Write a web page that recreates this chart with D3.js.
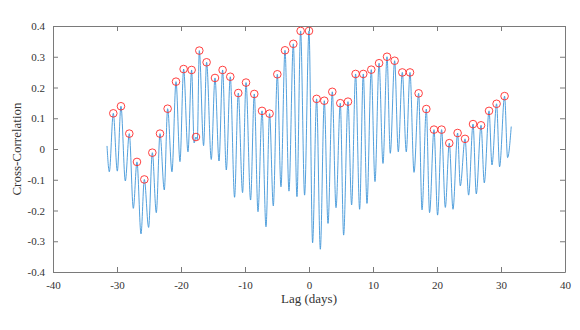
<!DOCTYPE html>
<html>
<head>
<meta charset="utf-8">
<script src="https://cdn.jsdelivr.net/npm/d3@7"></script>
<style>
  html, body { margin: 0; padding: 0; background: #fff; }
  svg { display: block; }
</style>
</head>
<body>
<svg id="chart" width="580" height="330"></svg>
<script>
// ---- data ----
const xTicks = [-40, -30, -20, -10, 0, 10, 20, 30, 40];
const xTickLabels = ["-40", "-30", "-20", "-10", "0", "10", "20", "30", "40"];
const yTicks = [-0.4, -0.3, -0.2, -0.1, 0, 0.1, 0.2, 0.3, 0.4];
const yTickLabels = ["-0.4", "-0.3", "-0.2", "-0.1", "0", "0.1", "0.2", "0.3", "0.4"];

// detected peaks (red circles)
const peakLags = [-30.58, -29.38, -28.08, -26.88, -25.73, -24.48, -23.28, -22.09, -20.78, -19.59,
  -18.34, -17.66, -17.14, -16.00, -14.69, -13.50, -12.30, -11.05, -9.84, -8.55,
  -7.34, -6.16, -4.95, -3.75, -2.45, -1.31, 0.00, 1.19, 2.39, 3.64,
  4.89, 6.09, 7.28, 8.48, 9.73, 10.95, 12.19, 13.38, 14.58, 15.78,
  17.13, 18.33, 19.53, 20.72, 21.92, 23.22, 24.38, 25.63, 26.88, 28.13,
  29.31, 30.56];
const peakValues = [0.116, 0.139, 0.050, -0.042, -0.099, -0.012, 0.050, 0.131, 0.219, 0.260,
  0.257, 0.039, 0.320, 0.282, 0.231, 0.257, 0.235, 0.182, 0.216, 0.179,
  0.124, 0.115, 0.243, 0.321, 0.342, 0.384, 0.384, 0.163, 0.157, 0.186,
  0.149, 0.154, 0.244, 0.244, 0.258, 0.279, 0.300, 0.287, 0.249, 0.249,
  0.181, 0.130, 0.063, 0.063, 0.019, 0.052, 0.033, 0.081, 0.077, 0.124,
  0.147, 0.172];

// troughs of the cross-correlation curve (plus its two end points)
const troughLags = [-31.56, -31.20, -29.95, -28.70, -27.45, -26.25, -25.06, -23.86, -22.61, -21.41,
  -20.16, -18.91, -17.95, -17.45, -16.47, -15.27, -14.06, -12.92, -11.63, -10.38,
  -9.13, -7.97, -6.72, -5.58, -4.38, -3.13, -1.88, -0.69, 0.56, 1.77,
  2.97, 4.22, 5.41, 6.66, 7.91, 9.06, 10.31, 11.56, 12.70, 13.95,
  15.20, 16.41, 17.66, 18.84, 20.09, 21.30, 22.50, 23.64, 24.94, 26.14,
  27.39, 28.59, 29.78, 31.03, 31.60];
const troughValues = [0.010, -0.074, -0.072, -0.104, -0.193, -0.276, -0.255, -0.207, -0.133, -0.074,
  -0.041, -0.009, 0.020, 0.030, 0.011, -0.034, -0.039, -0.068, -0.157, -0.142,
  -0.166, -0.204, -0.253, -0.185, -0.123, -0.137, -0.155, -0.150, -0.305, -0.326,
  -0.242, -0.191, -0.280, -0.182, -0.196, -0.177, -0.106, -0.047, -0.014, -0.009,
  -0.009, -0.076, -0.198, -0.207, -0.215, -0.190, -0.196, -0.120, -0.150, -0.146,
  -0.110, -0.052, -0.058, -0.028, 0.073];

// ---- layout ----
const mLeft = 53, mRight = 565, mTop = 26, mBottom = 272;
const svg = d3.select("#chart");
const font = "'Liberation Serif', 'Times New Roman', serif";
const axisColor = "#7a7a7a";
const textColor = "#333";

const x = d3.scaleLinear().domain([-40, 40]).range([mLeft, mRight]);
const y = d3.scaleLinear().domain([-0.4, 0.4]).range([mBottom, mTop]);

// line points: peaks + troughs merged in lag order
const linePts = peakLags.map((l, i) => ({ lag: l, v: peakValues[i] }))
  .concat(troughLags.map((l, i) => ({ lag: l, v: troughValues[i] })))
  .sort((a, b) => a.lag - b.lag);

const line = d3.line().x(d => x(d.lag)).y(d => y(d.v)).curve(d3.curveMonotoneX);
svg.append("path")
  .datum(linePts)
  .attr("d", line)
  .attr("fill", "none")
  .attr("stroke", "#3f95d8")
  .attr("stroke-width", 0.9)
  .attr("stroke-linejoin", "round");

// circles
svg.append("g").selectAll("circle")
  .data(peakLags.map((l, i) => ({ lag: l, v: peakValues[i] })))
  .join("circle")
  .attr("cx", d => x(d.lag))
  .attr("cy", d => y(d.v))
  .attr("r", 3.8)
  .attr("fill", "none")
  .attr("stroke", "#ff2a2a")
  .attr("stroke-width", 0.9);

// axes
const xAxisB = d3.axisBottom(x).tickValues(xTicks).tickFormat((d, i) => xTickLabels[i])
  .tickSizeInner(-5).tickSizeOuter(0).tickPadding(9);
const xAxisT = d3.axisTop(x).tickValues(xTicks).tickFormat("")
  .tickSizeInner(-5).tickSizeOuter(0);
const yAxisL = d3.axisLeft(y).tickValues(yTicks).tickFormat((d, i) => yTickLabels[i])
  .tickSizeInner(-5).tickSizeOuter(0).tickPadding(8);
const yAxisR = d3.axisRight(y).tickValues(yTicks).tickFormat("")
  .tickSizeInner(-5).tickSizeOuter(0);

function style(g) {
  g.select(".domain").attr("stroke", axisColor).attr("stroke-width", 1);
  g.selectAll(".tick line").attr("stroke", axisColor).attr("stroke-width", 1);
  g.selectAll(".tick text").attr("fill", textColor).style("font-family", font).style("font-size", "11px");
}

svg.append("g").attr("transform", `translate(0,${mBottom})`).call(xAxisB).call(style);
svg.append("g").attr("transform", `translate(0,${mTop})`).call(xAxisT).call(style);
svg.append("g").attr("transform", `translate(${mLeft},0)`).call(yAxisL).call(style);
svg.append("g").attr("transform", `translate(${mRight},0)`).call(yAxisR).call(style);

// axis titles
svg.append("text")
  .attr("x", (mLeft + mRight) / 2).attr("y", 303)
  .attr("text-anchor", "middle")
  .attr("fill", textColor)
  .style("font-family", font).style("font-size", "13px")
  .text("Lag (days)");

svg.append("text")
  .attr("transform", `translate(21,${(mTop + mBottom) / 2}) rotate(-90)`)
  .attr("text-anchor", "middle")
  .attr("fill", textColor)
  .style("font-family", font).style("font-size", "13px")
  .text("Cross-Correlation");
</script>
</body>
</html>
